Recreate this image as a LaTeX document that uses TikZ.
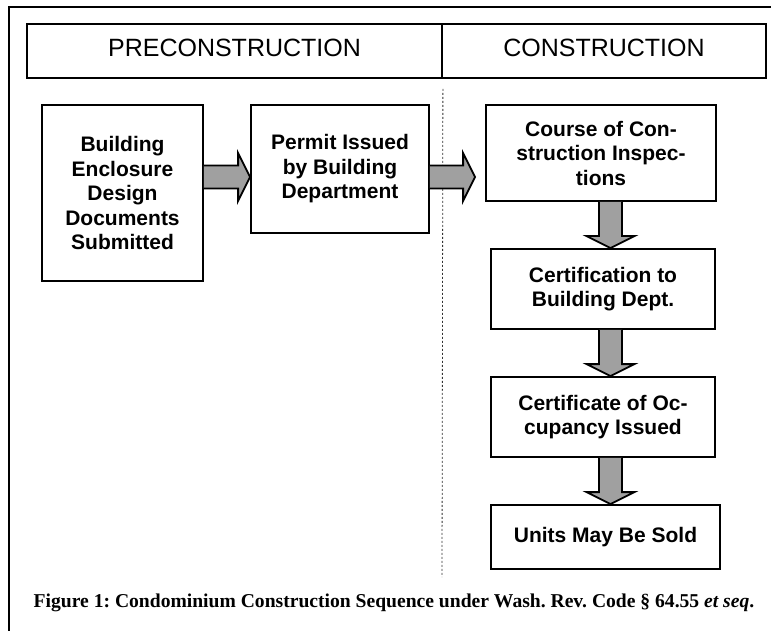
\documentclass[tikz,border=0pt]{standalone}
\usepackage{fontspec}
\setmainfont{Liberation Serif}
\newfontfamily\arialfont{Liberation Sans}
\usetikzlibrary{calc, positioning}

\definecolor{arrowgray}{RGB}{160,160,160}

\newcommand{\hfat}[3]{%
	\draw[fatarrow] ($(#1.east |- hrow)+(0,-11.5)$) -- ($(#2.west |- hrow)+(-#3-12,-11.5)$) -- ++(0,-12.5)
		-- ($(#2.west |- hrow)+(-#3,0)$) -- ($(#2.west |- hrow)+(-#3-12,24)$) -- ++(0,-12.5) -- ($(#1.east |- hrow)+(0,11.5)$);}
\newcommand{\vfat}[2]{%
	\draw[fatarrow] ($(#1.south -| spine)+(-11.5,0)$) -- ($(#2.north -| spine)+(-11.5,-12)$) -- ++(-12.5,0)
		-- (#2.north -| spine) -- ($(#2.north -| spine)+(24,-12)$) -- ++(-12.5,0) -- ($(#1.south -| spine)+(11.5,0)$);}

\begin{document}
\begin{tikzpicture}[x=1pt, y=-1pt]
	\tikzstyle{stepbox} = [draw, line width=1.8pt, align=center, inner sep=0pt, font=\arialfont\bfseries\fontsize{21}{24.5}\selectfont]
	\tikzstyle{phase} = [draw, line width=1.8pt, inner sep=0pt, minimum height=54pt, text height=18pt, text depth=7pt, font=\arialfont\fontsize{25}{30}\selectfont]
	\tikzstyle{fatarrow} = [draw, line width=1.8pt, fill=arrowgray, line join=miter]

	\useasboundingbox (0,0) rectangle (771,631);
	\draw[line width=2.5pt] (9,640) -- (9,7) -- (780,7);

	\node[phase, minimum width=415pt] (pre) at (234.5,51) {PRECONSTRUCTION};
	\node[phase, minimum width=324pt] (con) at (604,51) {CONSTRUCTION};

	\draw[line width=0.8pt, dash pattern=on 2pt off 2pt, black!80] ($(pre.south east)+(0,10)$) -- (442,577);

	\coordinate (hrow) at (0,177);
	\coordinate (spine) at (610.5,0);

	\node[stepbox, minimum width=161pt, minimum height=176pt] (submit) at (122.5,193)
		{Building\\Enclosure\\Design\\Documents\\Submitted};
	\node[stepbox, minimum width=178pt, minimum height=128pt] (permit) at (340,169)
		{Permit Issued\\by Building\\Department};
	\node[stepbox, minimum width=230pt, minimum height=96pt] (inspect) at (601,153)
		{Course of Con-\\struction Inspec-\\tions};
	\node[stepbox, minimum width=224pt, minimum height=80pt] (certify) at (603,289)
		{Certification to\\Building Dept.};
	\node[stepbox, minimum width=224pt, minimum height=80pt] (occupy) at (603,417)
		{Certificate of Oc-\\cupancy Issued};
	\node[stepbox, minimum width=229pt, minimum height=64pt] (sold) at (605.5,537)
		{Units May Be Sold};

	\hfat{submit}{permit}{0}
	\hfat{permit}{inspect}{10}
	\vfat{inspect}{certify}
	\vfat{certify}{occupy}
	\vfat{occupy}{sold}

	\node[font=\frenchspacing\bfseries\fontsize{19.6}{22}\selectfont] (caption) at (394,603)
		{Figure 1: Condominium Construction Sequence under Wash. Rev. Code § 64.55 \textit{et seq}.};
\end{tikzpicture}
\end{document}
